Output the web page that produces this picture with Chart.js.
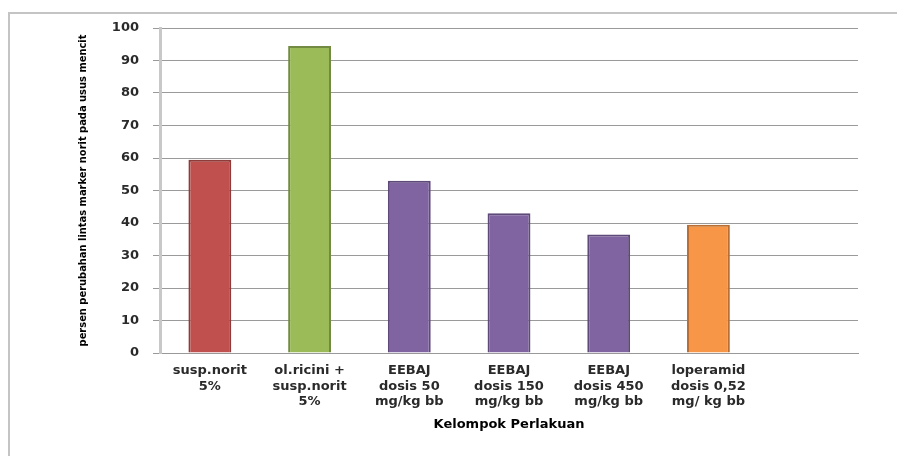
<!DOCTYPE html>
<html>
<head>
<meta charset="utf-8">
<script src="https://cdn.jsdelivr.net/npm/chart.js@4/dist/chart.umd.min.js"></script>
<style>
  body { margin: 0; background: #fff; }
  #wrap { position: relative; width: 897px; height: 456px; }
  #frame {
    position: absolute; left: 8px; top: 12px; right: 0; bottom: 0;
    border-left: 2px solid #c4c4c4; border-top: 2px solid #c4c4c4;
    pointer-events: none;
  }
</style>
</head>
<body>
<div id="wrap">
  <canvas id="grafik" width="897" height="456"></canvas>
  <div id="frame"></div>
</div>
<script>
// kelompok perlakuan (label sumbu x, baris per baris)
const kelompok = [
  ["susp.norit", "5%"],
  ["ol.ricini +", "susp.norit", "5%"],
  ["EEBAJ", "dosis 50", "mg/kg bb"],
  ["EEBAJ", "dosis 150", "mg/kg bb"],
  ["EEBAJ", "dosis 450", "mg/kg bb"],
  ["loperamid", "dosis 0,52", "mg/ kg bb"],
  ""
];
// persen perubahan lintas marker norit
const persen = [59.5, 94.5, 53, 43, 36.5, 39.5, null];

const warnaIsi = ["#C0504D", "#9BBB59", "#8064A2", "#8064A2", "#8064A2", "#F79646", "#fff"];
const warnaTepi = ["#8E3B39", "#728A41", "#5E4A78", "#5E4A78", "#5E4A78", "#B96F33", "#fff"];

const fontTick = { family: "DejaVu Sans", size: 13, weight: "bold" };

new Chart(document.getElementById("grafik"), {
  type: "bar",
  data: {
    labels: kelompok,
    datasets: [
      {
        label: "persen",
        data: persen,
        backgroundColor: warnaIsi,
        borderColor: warnaTepi,
        borderWidth: 2,
        barPercentage: 0.43,
        categoryPercentage: 1,
      },
    ],
  },
  options: {
    responsive: false,
    animation: false,
    devicePixelRatio: 1,
    layout: {
      padding: { left: 77, top: 28, right: 39, bottom: 0 },
    },
    plugins: {
      legend: { display: false },
      tooltip: { enabled: false },
    },
    scales: {
      x: {
        grid: { display: false },
        border: { display: true, color: "#999", width: 1 },
        ticks: { color: "#2a2a2a", font: fontTick, padding: 2, maxRotation: 0, autoSkip: false },
        title: {
          display: true,
          text: "Kelompok Perlakuan",
          color: "#000",
          font: { family: "DejaVu Sans", size: 13, weight: "bold" },
          padding: { top: 0, bottom: 24 },
        },
        afterFit: (scale) => { scale.height = 103; },
      },
      y: {
        min: 0,
        max: 100,
        ticks: { stepSize: 10, color: "#2a2a2a", font: fontTick, padding: 14 },
        grid: { color: "#9a9a9a", lineWidth: 1, tickLength: 7, drawTicks: true },
        border: { display: true, color: "#c8c8c8", width: 3 },
        title: {
          display: true,
          text: "persen perubahan lintas marker norit pada usus mencit",
          color: "#000",
          font: { family: "'DejaVu Sans Condensed', 'Liberation Sans', sans-serif", size: 11, weight: "bold" },
          padding: { top: 0, bottom: 0 },
        },
        afterFit: (scale) => { scale.width = 83; },
      },
    },
  },
});
</script>
</body>
</html>
